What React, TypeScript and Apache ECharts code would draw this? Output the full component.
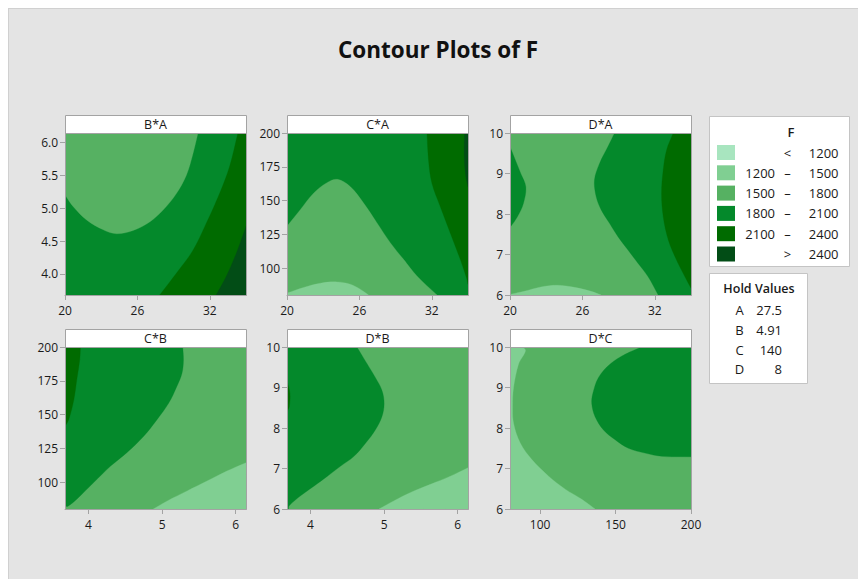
import React, { useEffect, useRef } from 'react';
import * as echarts from 'echarts';

const FONT = '"Open Sans", "Noto Sans", "DejaVu Sans", sans-serif';

// Contour levels (index 0..5)
const levelColors = ['#a8e5bf', '#80cf92', '#56b162', '#04892b', '#006b00', '#024d16'];
const legendLow = ['', '1200', '1500', '1800', '2100', ''];
const legendMid = ['<', '–', '–', '–', '–', '>'];
const legendHigh = ['1200', '1500', '1800', '2100', '2400', '2400'];

const holdNames = ['A', 'B', 'C', 'D'];
const holdValues = ['27.5', '4.91', '140', '8'];

// Variable ranges
const rangeA = [20, 35];
const rangeB = [3.68, 6.14];
const rangeC = [80, 200];
const rangeD = [6, 10];

// Tick values
const ticksA = [20, 26, 32];
const ticksBy = [4.0, 4.5, 5.0, 5.5, 6.0];
const ticksBx = [4, 5, 6];
const ticksCy = [100, 125, 150, 175, 200];
const ticksCx = [100, 150, 200];
const ticksD = [6, 7, 8, 9, 10];

// Contour region boundaries, [x, y] in data units
// B*A (x = A, y = B)
const BA_1500 = [[20, 5.2], [20.69, 5.02], [21.79, 4.82], [23.17, 4.67], [24.27, 4.61], [25.65, 4.66], [27.02, 4.79], [28.13, 4.97], [29.23, 5.22], [30.06, 5.5], [30.61, 5.83], [31.02, 6.14], [20, 6.14]];
const BA_2100 = [[27.85, 3.68], [29.23, 4.01], [30.61, 4.36], [31.71, 4.77], [32.81, 5.22], [33.64, 5.63], [34.33, 6.14], [35, 6.14], [35, 3.68]];
const BA_2400 = [[32.53, 3.68], [33.36, 3.96], [34.19, 4.31], [35, 4.72], [35, 3.68]];
// C*A (x = A, y = C)
const CA_1500 = [[20, 130.9], [21.1, 143.2], [22.2, 155.4], [23.31, 163.2], [24.19, 165.7], [25.24, 160.3], [26.35, 148.1], [27.46, 133.4], [28.56, 118.7], [29.66, 106.4], [30.77, 94.1], [32.43, 80], [20, 80]];
const CA_1200 = [[20, 81.4], [21.38, 85.6], [22.76, 88.75], [24.14, 89.7], [25.24, 88.0], [26.07, 84.3], [26.76, 80], [20, 80]];
const CA_2100 = [[31.6, 200], [31.73, 179.9], [32.01, 162.8], [32.7, 145.6], [33.53, 126.0], [34.36, 106.4], [34.91, 91.7], [35, 88], [35, 200]];
const CA_2400 = [[34.72, 200], [34.68, 185], [34.78, 170], [35, 160], [35, 200]];
// D*A (x = A, y = D)
const DA_1800L = [[20, 9.66], [20.89, 9.0], [21.31, 8.67], [21.11, 8.26], [20.61, 7.93], [20.06, 7.69], [20, 7.69]];
const DA_1800R = [[28.67, 10], [28.11, 9.66], [27.42, 9.25], [27.0, 8.84], [27.14, 8.43], [27.56, 8.1], [28.25, 7.77], [28.95, 7.44], [29.78, 7.11], [30.62, 6.78], [31.45, 6.45], [32.28, 6], [35, 6], [35, 10]];
const DA_2100 = [[33.53, 10], [32.98, 9.58], [32.7, 9.09], [32.56, 8.51], [32.7, 7.93], [33.12, 7.36], [33.81, 6.86], [34.5, 6.45], [35, 6.17], [35, 10]];
const DA_1200 = [[20, 6], [20.06, 6.02], [21.17, 6.09], [22.56, 6.2], [23.95, 6.24], [25.33, 6.19], [26.72, 6.09], [27.56, 6]];
// C*B (x = B, y = C)
const CB_1800 = [[3.68, 200], [5.28, 200], [5.29, 190.4], [5.27, 180.6], [5.2, 170.8], [5.09, 158.5], [4.93, 146.2], [4.75, 133.9], [4.52, 121.7], [4.3, 111.8], [4.07, 99.6], [3.84, 87.3], [3.72, 82], [3.68, 82]];
const CB_2100 = [[3.68, 200], [3.89, 200], [3.88, 190.4], [3.84, 175.7], [3.8, 160.9], [3.73, 146.2], [3.68, 141.3]];
const CB_1200 = [[6.14, 114.3], [5.88, 108.1], [5.61, 100.7], [5.34, 93.4], [5.07, 86.0], [4.88, 80], [6.14, 80]];
// D*B (x = B, y = D)
const DB_1800 = [[3.68, 10], [4.63, 10], [4.77, 9.58], [4.88, 9.25], [4.97, 8.93], [5.0, 8.6], [4.97, 8.28], [4.88, 7.95], [4.75, 7.63], [4.59, 7.3], [4.41, 7.06], [4.23, 6.81], [4.05, 6.57], [3.86, 6.32], [3.71, 6.08], [3.7, 6], [3.68, 6]];
const DB_2100 = [[3.68, 9.17], [3.72, 8.85], [3.71, 8.52], [3.68, 8.4]];
const DB_1200 = [[6.14, 7.02], [5.9, 6.81], [5.63, 6.61], [5.36, 6.41], [5.13, 6.2], [4.93, 6.0], [6.14, 6]];
// D*C (x = C, y = D)
const DC_1800 = [[167.3, 10], [156.3, 9.82], [146.4, 9.58], [138.7, 9.25], [134.9, 8.85], [134.2, 8.6], [136.4, 8.28], [142.0, 7.95], [149.7, 7.71], [158.5, 7.5], [169.5, 7.38], [180.6, 7.3], [193.8, 7.29], [200, 7.29], [200, 10]];
const DC_1200 = [[80, 10], [90.1, 9.94], [85.7, 9.58], [82.4, 9.01], [81.7, 8.52], [82.4, 8.11], [86.8, 7.63], [94.5, 7.22], [105.6, 6.81], [116.6, 6.49], [127.6, 6.24], [136.4, 6.0], [80, 6]];

type Region = { level: number; pts: number[][] };
type Panel = {
  title: string;
  xr: number[]; yr: number[];
  xt: number[]; yt: number[];
  xdec: number; ydec: number;
  base: number;
  regions: Region[];
};

const panels: Panel[] = [
  { title: 'B*A', xr: rangeA, yr: rangeB, xt: ticksA, yt: ticksBy, xdec: 0, ydec: 1, base: 3,
    regions: [{ level: 2, pts: BA_1500 }, { level: 4, pts: BA_2100 }, { level: 5, pts: BA_2400 }] },
  { title: 'C*A', xr: rangeA, yr: rangeC, xt: ticksA, yt: ticksCy, xdec: 0, ydec: 0, base: 3,
    regions: [{ level: 2, pts: CA_1500 }, { level: 1, pts: CA_1200 }, { level: 4, pts: CA_2100 }, { level: 5, pts: CA_2400 }] },
  { title: 'D*A', xr: rangeA, yr: rangeD, xt: ticksA, yt: ticksD, xdec: 0, ydec: 0, base: 2,
    regions: [{ level: 3, pts: DA_1800L }, { level: 3, pts: DA_1800R }, { level: 4, pts: DA_2100 }, { level: 1, pts: DA_1200 }] },
  { title: 'C*B', xr: rangeB, yr: rangeC, xt: ticksBx, yt: ticksCy, xdec: 0, ydec: 0, base: 2,
    regions: [{ level: 3, pts: CB_1800 }, { level: 4, pts: CB_2100 }, { level: 1, pts: CB_1200 }] },
  { title: 'D*B', xr: rangeB, yr: rangeD, xt: ticksBx, yt: ticksD, xdec: 0, ydec: 0, base: 2,
    regions: [{ level: 3, pts: DB_1800 }, { level: 4, pts: DB_2100 }, { level: 1, pts: DB_1200 }] },
  { title: 'D*C', xr: rangeC, yr: rangeD, xt: ticksCx, yt: ticksD, xdec: 0, ydec: 0, base: 2,
    regions: [{ level: 3, pts: DC_1800 }, { level: 1, pts: DC_1200 }] },
];

const gridLefts = [56, 278, 501];
const gridTops = [124, 338];
const GW = 181;
const GH = 162;
const HEADER_H = 18;
const FRAME = '#a3a3a3';
const TEXT = '#1a1a1a';

function buildOption() {
  const grids: any[] = [];
  const xAxes: any[] = [];
  const yAxes: any[] = [];
  const series: any[] = [];
  const graphics: any[] = [];

  panels.forEach((p, i) => {
    const left = gridLefts[i % 3];
    const top = gridTops[Math.floor(i / 3)];
    grids.push({ left, top, width: GW, height: GH, containLabel: false, show: false });
    const axisCommon = {
      type: 'value',
      gridIndex: i,
      axisLine: { show: true, onZero: false, lineStyle: { color: FRAME, width: 1 } },
      splitLine: { show: false },
    };
    xAxes.push({
      ...axisCommon,
      min: p.xr[0], max: p.xr[1],
      axisTick: { show: true, length: 5, lineStyle: { color: FRAME }, customValues: p.xt },
      axisLabel: {
        customValues: p.xt, color: TEXT, fontSize: 12, fontFamily: FONT, margin: 9,
        formatter: (v: number) => v.toFixed(p.xdec),
      },
    });
    yAxes.push({
      ...axisCommon,
      min: p.yr[0], max: p.yr[1],
      axisTick: { show: true, length: 5, lineStyle: { color: FRAME }, customValues: p.yt },
      axisLabel: {
        customValues: p.yt, color: TEXT, fontSize: 12, fontFamily: FONT, margin: 7,
        formatter: (v: number) => v.toFixed(p.ydec),
      },
    });
    const baseRect = [[p.xr[0], p.yr[0]], [p.xr[1], p.yr[0]], [p.xr[1], p.yr[1]], [p.xr[0], p.yr[1]]];
    const regs: Region[] = [{ level: p.base, pts: baseRect }, ...p.regions];
    const eps = 1e-6;
    const onEdge = (pt: number[]) =>
      Math.abs(pt[0] - p.xr[0]) < eps || Math.abs(pt[0] - p.xr[1]) < eps ||
      Math.abs(pt[1] - p.yr[0]) < eps || Math.abs(pt[1] - p.yr[1]) < eps;
    series.push({
      type: 'custom',
      xAxisIndex: i,
      yAxisIndex: i,
      clip: true,
      silent: true,
      data: regs.map((r) => r.pts[0]),
      renderItem: (params: any, api: any) => {
        const r = regs[params.dataIndex];
        const points: number[][] = [];
        r.pts.forEach((pt) => {
          const c = api.coord(pt);
          points.push(c);
          // keep corners on the plot edges sharp when smoothing the contour curve
          if (onEdge(pt)) points.push([c[0], c[1]]);
        });
        return {
          type: 'polygon',
          shape: { points, smooth: params.dataIndex === 0 ? 0 : 0.35 },
          style: { fill: levelColors[r.level], stroke: levelColors[r.level], lineWidth: 0.3 },
        };
      },
    });
    // header strip
    graphics.push({
      type: 'rect', z: 50,
      shape: { x: left + 0.5, y: top - HEADER_H + 0.5, width: GW, height: HEADER_H },
      style: { fill: '#ffffff', stroke: FRAME, lineWidth: 1 },
    });
    graphics.push({
      type: 'text', z: 51,
      x: left + GW / 2, y: top - HEADER_H / 2 + 0.5,
      style: { text: p.title, fill: TEXT, font: `12.5px ${FONT}`, align: 'center', verticalAlign: 'middle' },
    });
    // plot frame
    graphics.push({
      type: 'rect', z: 50,
      shape: { x: left + 0.5, y: top + 0.5, width: GW, height: GH },
      style: { fill: 'none', stroke: FRAME, lineWidth: 1 },
    });
  });

  // Title
  graphics.push({
    type: 'text', z: 60, x: 429, y: 40,
    style: { text: 'Contour Plots of F', fill: '#111111', font: `bold 22.5px ${FONT}`, align: 'center', verticalAlign: 'middle' },
  });

  // Legend box
  graphics.push({
    type: 'rect', z: 50, shape: { x: 700.5, y: 107.5, width: 140, height: 150 },
    style: { fill: '#ffffff', stroke: '#c4c4c4', lineWidth: 1 },
  });
  graphics.push({
    type: 'text', z: 51, x: 782, y: 123,
    style: { text: 'F', fill: TEXT, font: `600 13px ${FONT}`, align: 'center', verticalAlign: 'middle' },
  });
  levelColors.forEach((c, k) => {
    const cy = 143.5 + k * 20.3;
    graphics.push({
      type: 'rect', z: 51, shape: { x: 708, y: cy - 7.5, width: 18, height: 15 },
      style: { fill: c },
    });
    if (legendLow[k]) {
      graphics.push({
        type: 'text', z: 51, x: 766, y: cy,
        style: { text: legendLow[k], fill: TEXT, font: `13px ${FONT}`, align: 'right', verticalAlign: 'middle' },
      });
    }
    graphics.push({
      type: 'text', z: 51, x: 778.5, y: cy,
      style: { text: legendMid[k], fill: TEXT, font: `13px ${FONT}`, align: 'center', verticalAlign: 'middle' },
    });
    graphics.push({
      type: 'text', z: 51, x: 829.5, y: cy,
      style: { text: legendHigh[k], fill: TEXT, font: `13px ${FONT}`, align: 'right', verticalAlign: 'middle' },
    });
  });

  // Hold values box
  graphics.push({
    type: 'rect', z: 50, shape: { x: 700.5, y: 264.5, width: 98, height: 110 },
    style: { fill: '#ffffff', stroke: '#c4c4c4', lineWidth: 1 },
  });
  graphics.push({
    type: 'text', z: 51, x: 750, y: 279.5,
    style: { text: 'Hold Values', fill: TEXT, font: `600 12.5px ${FONT}`, align: 'center', verticalAlign: 'middle' },
  });
  holdNames.forEach((n, k) => {
    const cy = 301 + k * 19.8;
    graphics.push({
      type: 'text', z: 51, x: 730.5, y: cy,
      style: { text: n, fill: TEXT, font: `13px ${FONT}`, align: 'center', verticalAlign: 'middle' },
    });
    graphics.push({
      type: 'text', z: 51, x: 773, y: cy,
      style: { text: holdValues[k], fill: TEXT, font: `13px ${FONT}`, align: 'right', verticalAlign: 'middle' },
    });
  });

  return {
    animation: false,
    backgroundColor: '#e4e4e4',
    textStyle: { fontFamily: FONT },
    grid: grids,
    xAxis: xAxes,
    yAxis: yAxes,
    series,
    graphic: { elements: graphics },
  };
}

export default function App() {
  const ref = useRef<HTMLDivElement>(null);
  useEffect(() => {
    if (!ref.current) return;
    const chart = echarts.init(ref.current, undefined, { renderer: 'svg' });
    chart.setOption(buildOption() as any);
    return () => chart.dispose();
  }, []);
  return (
    <div
      style={{
        position: 'fixed', left: 8, top: 8, width: 850, height: 571,
        background: '#e4e4e4', borderTop: '1px solid #d0d0d0', borderLeft: '1px solid #d0d0d0',
        boxSizing: 'border-box',
      }}
    >
      <div ref={ref} style={{ width: 849, height: 570 }} />
    </div>
  );
}
